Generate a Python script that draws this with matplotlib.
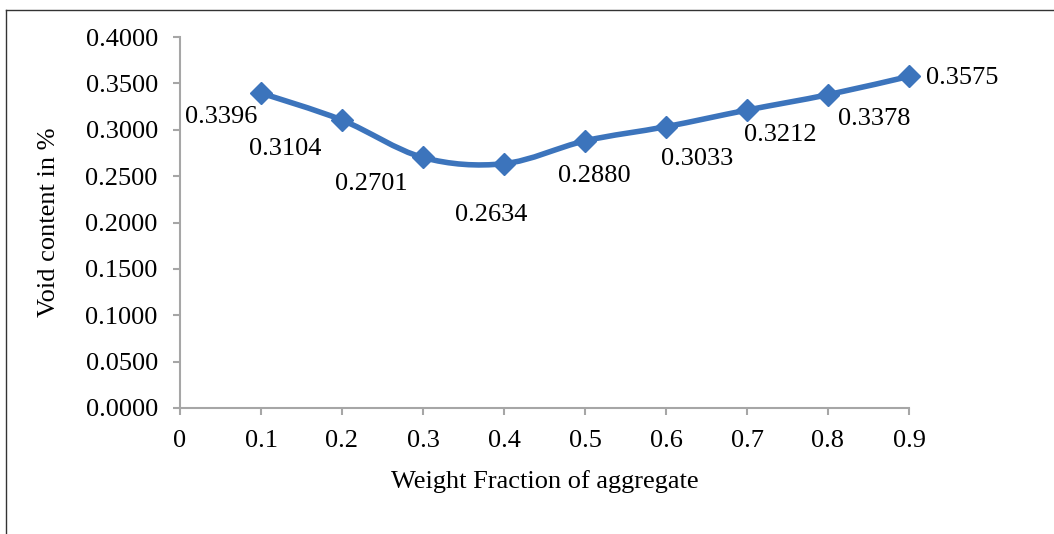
import matplotlib
matplotlib.use("Agg")
import matplotlib.pyplot as plt
from matplotlib.path import Path
from matplotlib.patches import PathPatch
from matplotlib.lines import Line2D
import numpy as np

# data
weight_fraction = [0.1, 0.2, 0.3, 0.4, 0.5, 0.6, 0.7, 0.8, 0.9]
void_content = [0.3396, 0.3104, 0.2701, 0.2634, 0.2880, 0.3033, 0.3212, 0.3378, 0.3575]
x_ticks = [0, 0.1, 0.2, 0.3, 0.4, 0.5, 0.6, 0.7, 0.8, 0.9]
x_tick_labels = ["0", "0.1", "0.2", "0.3", "0.4", "0.5", "0.6", "0.7", "0.8", "0.9"]
y_ticks = [0.0, 0.05, 0.10, 0.15, 0.20, 0.25, 0.30, 0.35, 0.40]

# label offsets in pixels (dx right, dy down) from each point
label_offsets = [(-40, 24), (-57, 29), (-52, 27), (-13, 51), (9, 35),
                 (31, 32), (33, 25), (46, 24), (53, 2)]

BLUE = "#3C74BC"
AXIS_GRAY = "#A6A6A6"
FONT = "Liberation Serif"
FS = 19

plt.rcParams["font.family"] = FONT

fig = plt.figure(figsize=(10.54, 5.34), dpi=100)
ax = fig.add_axes([180 / 1054, 1 - 408 / 534, (909 - 180) / 1054, (408 - 37) / 534])

# smoothed line (Excel-style Catmull-Rom bezier through the points)
xs = np.array(weight_fraction)
ys = np.array(void_content)
verts = [(xs[0], ys[0])]
codes = [Path.MOVETO]
n = len(xs)
for i in range(n - 1):
    p0 = (xs[max(i - 1, 0)], ys[max(i - 1, 0)])
    p1 = (xs[i], ys[i])
    p2 = (xs[i + 1], ys[i + 1])
    p3 = (xs[min(i + 2, n - 1)], ys[min(i + 2, n - 1)])
    c1 = (p1[0] + (p2[0] - p0[0]) / 6, p1[1] + (p2[1] - p0[1]) / 6)
    c2 = (p2[0] - (p3[0] - p1[0]) / 6, p2[1] - (p3[1] - p1[1]) / 6)
    verts += [c1, c2, p2]
    codes += [Path.CURVE4, Path.CURVE4, Path.CURVE4]
ax.add_patch(PathPatch(Path(verts, codes), facecolor="none", edgecolor=BLUE,
                       linewidth=4, capstyle="round", joinstyle="round", zorder=3))
ax.plot(weight_fraction, void_content, linestyle="none", marker="D",
        markersize=11, color=BLUE, zorder=4, clip_on=False)

# data labels
for x, y, (dx, dy) in zip(weight_fraction, void_content, label_offsets):
    ax.annotate(f"{y:.4f}", (x, y), xytext=(dx * 0.72, -dy * 0.72),
                textcoords="offset points", ha="center", va="center",
                fontsize=FS, color="black")

ax.set_xlim(0, 0.9)
ax.set_ylim(0, 0.4)
ax.set_xticks(x_ticks)
ax.set_xticklabels(x_tick_labels)
ax.set_yticks(y_ticks)
ax.set_yticklabels([f"{v:.4f}" for v in y_ticks])

for s in ["top", "right"]:
    ax.spines[s].set_visible(False)
for s in ["left", "bottom"]:
    ax.spines[s].set_color(AXIS_GRAY)
    ax.spines[s].set_linewidth(1.5)
ax.tick_params(axis="both", direction="out", length=5, width=1.5,
               color=AXIS_GRAY, labelsize=FS)
ax.tick_params(axis="y", pad=11)
ax.tick_params(axis="x", pad=11)

ax.set_xlabel("Weight Fraction of aggregate", fontsize=FS, labelpad=13)
ax.set_ylabel("Void content in %", fontsize=FS, labelpad=18)

# outer frame (top and left edges visible)
fig.add_artist(Line2D([5.5 / 1054, 1], [1 - 9.5 / 534, 1 - 9.5 / 534],
                      transform=fig.transFigure, color="#333333", linewidth=1))
fig.add_artist(Line2D([5.5 / 1054, 5.5 / 1054], [0, 1 - 9.5 / 534],
                      transform=fig.transFigure, color="#333333", linewidth=1))

fig.savefig("out.png", dpi=100, facecolor="white")
